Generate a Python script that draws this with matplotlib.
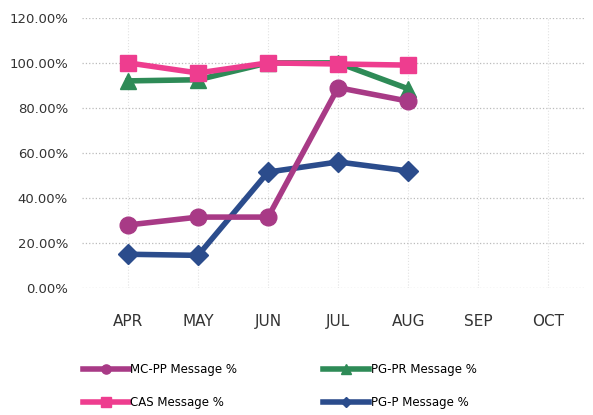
import numpy as np
import matplotlib.pyplot as plt

months = ['APR', 'MAY', 'JUN', 'JUL', 'AUG', 'SEP', 'OCT']
mcpp = [28.0, 31.5, 31.5, 89.0, 83.0]
pgpr = [92.0, 92.5, 100.0, 100.0, 88.5]
cas = [100.0, 95.5, 100.0, 99.5, 99.0]
pgp = [15.0, 14.5, 51.5, 56.0, 52.0]

x = np.arange(len(mcpp))

fig = plt.figure(figsize=(5.93, 4.15), dpi=100)
ax = fig.add_axes([0.138, 0.306, 0.849, 0.651])

kw = dict(lw=4, markersize=12)
l4, = ax.plot(x, pgp, color='#2B4C8C', marker='D', markersize=10, lw=4, zorder=3, label='PG-P Message %')
l2, = ax.plot(x, pgpr, color='#2E8B57', marker='^', zorder=4, label='PG-PR Message %', **kw)
l1, = ax.plot(x, mcpp, color='#A83A86', marker='o', zorder=5, label='MC-PP Message %', **kw)
l3, = ax.plot(x, cas, color='#EE3D8F', marker='s', zorder=6, label='CAS Message %', **kw)

ax.set_xlim(-0.66, 6.53)
ax.set_ylim(0, 120)
ax.set_yticks(np.arange(0, 121, 20))
ax.set_yticklabels(['%.2f%%' % v for v in np.arange(0, 121, 20)], fontsize=9.5, color='#333333')
ax.set_xticks(np.arange(len(months)))
ax.set_xticklabels(months, fontsize=11, color='#333333')
ax.tick_params(axis='both', length=0)
ax.tick_params(axis='x', pad=19)
ax.tick_params(axis='y', pad=10)
for s in ax.spines.values():
    s.set_visible(False)
ax.grid(axis='y', ls=':', color='#bbbbbb', lw=0.9)
ax.grid(axis='x', ls=':', color='#e2e2e2', lw=0.8)
ax.set_axisbelow(True)

fig.legend([l1, l3, l2, l4], [h.get_label() for h in [l1, l3, l2, l4]],
           loc='lower left', bbox_to_anchor=(0.122, -0.012), ncol=2, frameon=False,
           fontsize=8.5, handlelength=3.9, columnspacing=7.3, handletextpad=0.1,
           labelspacing=1.75, markerscale=0.55)

fig.savefig('out.png', dpi=100)
